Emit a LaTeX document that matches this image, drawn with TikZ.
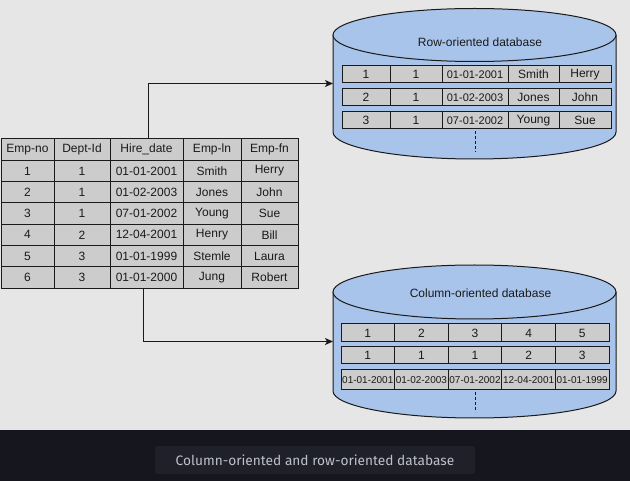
\documentclass[tikz,border=0pt]{standalone}
\usepackage{fontspec}
\setmainfont{Liberation Sans}
\newfontfamily\captionfont{Fira Sans}
\usetikzlibrary{positioning,arrows.meta}
\definecolor{bggray}{HTML}{E6E6E6}
\definecolor{bandbg}{HTML}{16161E}
\definecolor{capbox}{HTML}{1F2029}
\definecolor{captext}{HTML}{BDC1CA}
\definecolor{dbblue}{HTML}{A9C4EB}
\definecolor{cellgray}{HTML}{CCCCCC}
\definecolor{lineclr}{HTML}{1A1A1A}
\tikzset{%
  cell/.style={
    draw=lineclr,
    fill=cellgray,
    line width=1pt,
    inner sep=0pt,
    outer sep=0pt,
    anchor=north west,
    text=lineclr,
    font=\fontsize{12}{14}\selectfont
  },
  dbbody/.style={
    fill=dbblue,
    draw=lineclr,
    line width=1pt
  },
  dbframe/.style={
    minimum width=283pt,
    inner sep=0pt,
    outer sep=0pt,
    anchor=north west
  },
}

\begin{document}
\begin{tikzpicture}[x=1pt,y=-1pt,>={Stealth[length=8pt,width=7pt,inset=2pt]}]
        \tikzstyle{dbdash}=[draw=lineclr,line width=1pt,dash pattern=on 3pt off 2pt]
        \tikzstyle{link}=[draw=lineclr,line width=1pt,->]
        \tikzstyle{datecell}=[font=\fontsize{11}{13}\selectfont]

        % canvas and caption band
        \fill[bggray] (0,0) rectangle (630,430);
        \fill[bandbg] (0,430) rectangle (630,481);
        \useasboundingbox (0,0) rectangle (630,481);

        % employee table
        \foreach \c/\x/\w/\txt in {1/1/53/Emp-no, 2/54/56/Dept-Id, 3/110/73/Hire\_date, 4/183/58/Emp-ln, 5/241/57/Emp-fn}
          \node[cell, minimum width=\w pt, minimum height=21.3pt] (h\c) at (\x,139) {\txt};
        \foreach \r/\a/\b/\d/\e/\f in {1/1/1/01-01-2001/Smith/Herry, 2/2/1/01-02-2003/Jones/John,
            3/3/1/07-01-2002/Young/Sue, 4/4/2/12-04-2001/Henry/Bill,
            5/5/3/01-01-1999/Stemle/Laura, 6/6/3/01-01-2000/Jung/Robert}{
          \node[cell, minimum width=53pt, minimum height=21.3pt] (e\r-1) at (1,{139+21.3*\r}) {\a};
          \node[cell, minimum width=56pt, minimum height=21.3pt, right=0pt of e\r-1] (e\r-2) {\b};
          \node[cell, minimum width=73pt, minimum height=21.3pt, right=0pt of e\r-2] (e\r-3) {\d};
          \node[cell, minimum width=58pt, minimum height=21.3pt, right=0pt of e\r-3] (e\r-4) {\e};
          \node[cell, minimum width=57pt, minimum height=21.3pt, right=0pt of e\r-4] (e\r-5) {\f};
        }

        % row-oriented database
        \node[dbframe, minimum height=151pt] (rowdb) at (333,8) {};
        \path[dbbody] (333,35) -- (333,132) arc[start angle=180, end angle=360, x radius=141.5pt, y radius=27pt] -- (616,35);
        \path[dbbody] (474.5,35) ellipse[x radius=141.5pt, y radius=26.5pt];
        \node[text=lineclr, font=\fontsize{12}{14}\selectfont] (rowtitle) at (480,42) {Row-oriented database};
        \foreach \r/\y/\a/\b/\d/\e/\f in {1/66/1/1/01-01-2001/Smith/Herry, 2/89/2/1/01-02-2003/Jones/John, 3/112/3/1/07-01-2002/Young/Sue}{
          \node[cell, minimum width=48pt, minimum height=16.5pt] (ra\r) at (342,\y) {\a};
          \node[cell, minimum width=52pt, minimum height=16.5pt, right=0pt of ra\r] (rb\r) {\b};
          \node[cell, datecell, minimum width=66pt, minimum height=16.5pt, right=0pt of rb\r] (rc\r) {\d};
          \node[cell, minimum width=51pt, minimum height=16.5pt, right=0pt of rc\r] (rd\r) {\e};
          \node[cell, minimum width=52pt, minimum height=16.5pt, right=0pt of rd\r] (re\r) {\f};
        }
        \draw[dbdash] ([yshift=-3pt]rc3.south) -- ++(0,21);

        % column-oriented database
        \node[dbframe, minimum height=153pt] (coldb) at (333,265) {};
        \path[dbbody] (333,292) -- (333,391) arc[start angle=180, end angle=360, x radius=141.5pt, y radius=27pt] -- (616,292);
        \path[dbbody] (474.5,292) ellipse[x radius=141.5pt, y radius=27pt];
        \node[text=lineclr, font=\fontsize{12}{14}\selectfont] (coltitle) at (480.5,293) {Column-oriented database};
        \foreach \c/\p/\q/\dt in {1/1/1/01-01-2001, 2/2/1/01-02-2003, 3/3/1/07-01-2002, 4/4/2/12-04-2001, 5/5/3/01-01-1999}{
          \node[cell, minimum width=53.6pt, minimum height=18pt] (ca\c) at ({341+53.6*(\c-1)},324) {\p};
          \node[cell, minimum width=53.6pt, minimum height=17pt] (cb\c) at ({341+53.6*(\c-1)},347) {\q};
          \node[cell, font=\fontsize{10}{12}\selectfont, minimum width=53.6pt, minimum height=20pt] (cc\c) at ({341+53.6*(\c-1)},370) {\dt};
        }
        \draw[dbdash] ([yshift=-2pt]cc3.south) -- ++(0,20);

        % connectors
        \draw[link] ([xshift=1.5pt]h3.north) |- (rowdb.west);
        \draw[link] ([xshift=-3pt]e6-3.south) |- (coldb.west);

        % caption
        \node[fill=capbox, rounded corners=3pt, minimum width=320pt, minimum height=28pt,
              text=captext, font=\captionfont\fontsize{13.7}{16}\selectfont] (caption) at (315,460)
              {Column-oriented and row-oriented database};
\end{tikzpicture}
\end{document}
